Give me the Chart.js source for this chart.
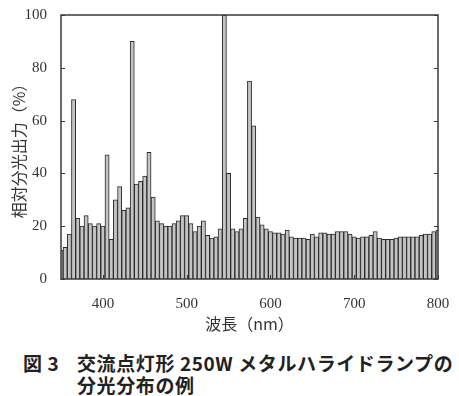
<!DOCTYPE html>
<html>
<head>
<meta charset="utf-8">
<script src="https://cdn.jsdelivr.net/npm/chart.js@4.4.1/dist/chart.umd.min.js"></script>
<style>
  body { margin: 0; background: #fff; }
  #wrap { position: relative; width: 459px; height: 396px; }
  #box { position: absolute; left: 0; top: 0; width: 459px; height: 340px; }
  .cap { position: absolute; font-family: "Noto Sans CJK JP", sans-serif; font-weight: bold; font-size: 19px; line-height: 22px; color: #222; white-space: nowrap; letter-spacing: 0.6px; }
</style>
</head>
<body>
<div id="wrap">
  <div id="box"><canvas id="spec"></canvas></div>
  <div class="cap" style="left:23px; top:352px;">図 3</div>
  <div class="cap" style="left:77px; top:352px;">交流点灯形 250W メタルハライドランプの</div>
  <div class="cap" style="left:77px; top:374px;">分光分布の例</div>
</div>
<script>
// wavelength bins (nm), 5 nm step
const wavelengths = [
  350, 355, 360, 365, 370, 375, 380, 385, 390, 395,
  400, 405, 410, 415, 420, 425, 430, 435, 440, 445,
  450, 455, 460, 465, 470, 475, 480, 485, 490, 495,
  500, 505, 510, 515, 520, 525, 530, 535, 540, 545,
  550, 555, 560, 565, 570, 575, 580, 585, 590, 595,
  600, 605, 610, 615, 620, 625, 630, 635, 640, 645,
  650, 655, 660, 665, 670, 675, 680, 685, 690, 695,
  700, 705, 710, 715, 720, 725, 730, 735, 740, 745,
  750, 755, 760, 765, 770, 775, 780, 785, 790, 795,
  800
];
// relative spectral output (%)
const output = [
  11, 12, 17, 68, 23, 20, 24, 21, 20, 21,
  20, 47, 15, 30, 35, 26, 27, 90, 36, 37,
  39, 48, 31, 22, 21, 20, 20, 21, 22, 24,
  24, 21, 18, 20, 22, 16.5, 15.5, 16, 19, 100,
  40, 19, 18, 19, 23, 75, 58, 23.5, 20.5, 19,
  18, 17.5, 17.5, 17, 18.5, 16, 15.5, 15.5, 15.5, 15,
  17, 16, 17.5, 17.5, 17, 17, 18, 18, 18, 17,
  16, 15.5, 16, 16, 16.5, 18, 15.5, 15, 15, 15,
  15.5, 16, 16, 16, 16, 16, 16.5, 17, 17, 18,
  18.5
];
const xTicks = [400, 500, 600, 700, 800];
const yTicks = [0, 20, 40, 60, 80, 100];

// frame + inward tick marks
const framePlugin = {
  id: 'frame',
  afterDraw(chart) {
    const c = chart.ctx, a = chart.chartArea;
    const xs = chart.scales.x, ys = chart.scales.y;
    c.save();
    c.strokeStyle = '#3a3a3a';
    c.lineWidth = 1.5;
    c.strokeRect(a.left, a.top, a.right - a.left, a.bottom - a.top);
    c.lineWidth = 1;
    c.beginPath();
    yTicks.forEach(v => {
      const y = Math.round(ys.getPixelForValue(v)) + 0.5;
      c.moveTo(a.left, y); c.lineTo(a.left + 4, y);
      c.moveTo(a.right, y); c.lineTo(a.right - 4, y);
    });
    xTicks.forEach(v => {
      const x = Math.round(xs.getPixelForValue(v)) + 0.5;
      c.moveTo(x, a.bottom); c.lineTo(x, a.bottom - 4);
    });
    c.stroke();
    c.restore();
  }
};

new Chart(document.getElementById('spec'), {
  type: 'bar',
  data: {
    datasets: [{
      data: wavelengths.map((w, i) => ({ x: w, y: output[i] })),
      backgroundColor: '#c4c4c4',
      borderColor: '#2a2a2a',
      borderWidth: 1,
      barPercentage: 1,
      categoryPercentage: 1,
      clip: 0
    }]
  },
  options: {
    responsive: true,
    maintainAspectRatio: false,
    animation: false,
    layout: { padding: { left: 0, right: 21, top: 13, bottom: 0 } },
    plugins: { legend: { display: false }, tooltip: { enabled: false } },
    scales: {
      x: {
        type: 'linear',
        offset: false,
        min: 350,
        max: 800,
        grid: { display: false, offset: false },
        border: { display: false },
        afterBuildTicks: s => { s.ticks = xTicks.map(v => ({ value: v })); },
        afterFit: s => { s.height = 61; },
        ticks: {
          padding: 8,
          color: '#333',
          font: { family: 'Liberation Serif', size: 15 }
        },
        title: {
          display: true,
          text: '波長（nm）',
          color: '#333',
          padding: { top: 2, bottom: 6 },
          font: { family: 'Noto Sans CJK JP', size: 16 }
        }
      },
      y: {
        min: 0,
        max: 100,
        grid: { display: false },
        border: { display: false },
        afterBuildTicks: s => { s.ticks = yTicks.map(v => ({ value: v })); },
        afterFit: s => { s.width = 61; },
        ticks: {
          padding: 6,
          color: '#333',
          font: { family: 'Liberation Serif', size: 15 }
        },
        title: {
          display: true,
          text: '相対分光出力（%）',
          color: '#333',
          padding: { top: 9, bottom: 4 },
          font: { family: 'Noto Sans CJK JP', size: 16 }
        }
      }
    }
  },
  plugins: [framePlugin]
});
</script>
</body>
</html>
